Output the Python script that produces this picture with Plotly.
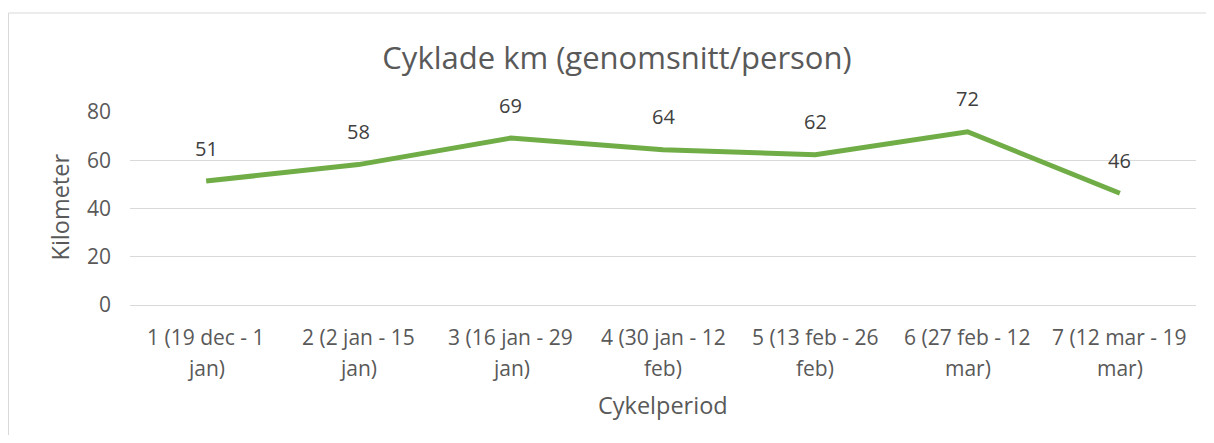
import plotly.graph_objects as go

categories = ["1 (19 dec - 1<br>jan)", "2 (2 jan - 15<br>jan)", "3 (16 jan - 29<br>jan)",
              "4 (30 jan - 12<br>feb)", "5 (13 feb - 26<br>feb)", "6 (27 feb - 12<br>mar)",
              "7 (12 mar - 19<br>mar)"]
values = [51.4, 58.2, 69.2, 64.4, 62.3, 71.8, 46.3]
labels = ["51", "58", "69", "64", "62", "72", "46"]
y_ticks = [0, 20, 40, 60, 80]

# page body has an 8px margin, so the figure is sized to fit inside it
W, H = 1198, 427
L, R, T, B = 122, 10, 104, 130
pw, ph = W - L - R, H - T - B
FONT = "Open Sans, Liberation Sans, sans-serif"
GREY = "#595959"

def py(fig_y):
    """figure pixel y (from top) -> paper y"""
    return (H - B - fig_y) / ph

fig = go.Figure()
fig.add_trace(go.Scatter(x=list(range(len(categories))), y=values, mode="lines",
                         line=dict(color="#70AD47", width=5), hoverinfo="skip"))

for i, (v, t) in enumerate(zip(values, labels)):
    fig.add_annotation(x=i, y=v, text=t, showarrow=False, yshift=33,
                       font=dict(size=20, color="#404040"))

# category labels, two lines each (wider line spacing than plotly's default)
for i, c in enumerate(categories):
    for k, part in enumerate(c.split("<br>")):
        fig.add_annotation(x=i, xref="x", yref="paper", y=py(329 + 31 * k), text=part,
                           showarrow=False, xanchor="center", yanchor="middle",
                           font=dict(size=21, color=GREY))

# chart border
fig.add_shape(type="rect", xref="paper", yref="paper",
              x0=(0.5 - L) / pw, x1=(W + 20 - L) / pw,
              y0=py(H + 20), y1=py(5),
              line=dict(color="#D9D9D9", width=1), layer="below")

# axis titles
fig.add_annotation(xref="paper", yref="paper", x=(51 - L) / pw, y=py(199.5), text="Kilometer",
                   textangle=-90, showarrow=False, xanchor="center", yanchor="middle",
                   font=dict(size=23.5, color=GREY))
fig.add_annotation(xref="paper", yref="paper", x=0.5, y=py(397),
                   text="Cykelperiod", showarrow=False, xanchor="center", yanchor="middle",
                   font=dict(size=23.5, color=GREY))

fig.update_layout(
    width=W, height=H,
    margin=dict(l=L, r=R, t=T, b=B, autoexpand=False),
    paper_bgcolor="white", plot_bgcolor="white",
    font=dict(family=FONT, color=GREY, size=21),
    title=dict(text="Cyklade km (genomsnitt/person)", x=609 / W, xanchor="center",
               y=1 - 50 / H, yanchor="middle", font=dict(size=31, color=GREY)),
    showlegend=False,
    xaxis=dict(range=[-0.5, len(categories) - 0.5], showticklabels=False,
               showgrid=False, showline=False, zeroline=False, ticks="",
               fixedrange=True, automargin=False),
    yaxis=dict(range=[0, 80], tickvals=y_ticks, showgrid=True, gridcolor="#D9D9D9", gridwidth=1,
               zeroline=True, zerolinecolor="#D9D9D9", zerolinewidth=1, showline=False,
               tickfont=dict(size=21, color=GREY), ticklabelstandoff=18,
               fixedrange=True, automargin=False),
)

fig.write_html("out.html")
